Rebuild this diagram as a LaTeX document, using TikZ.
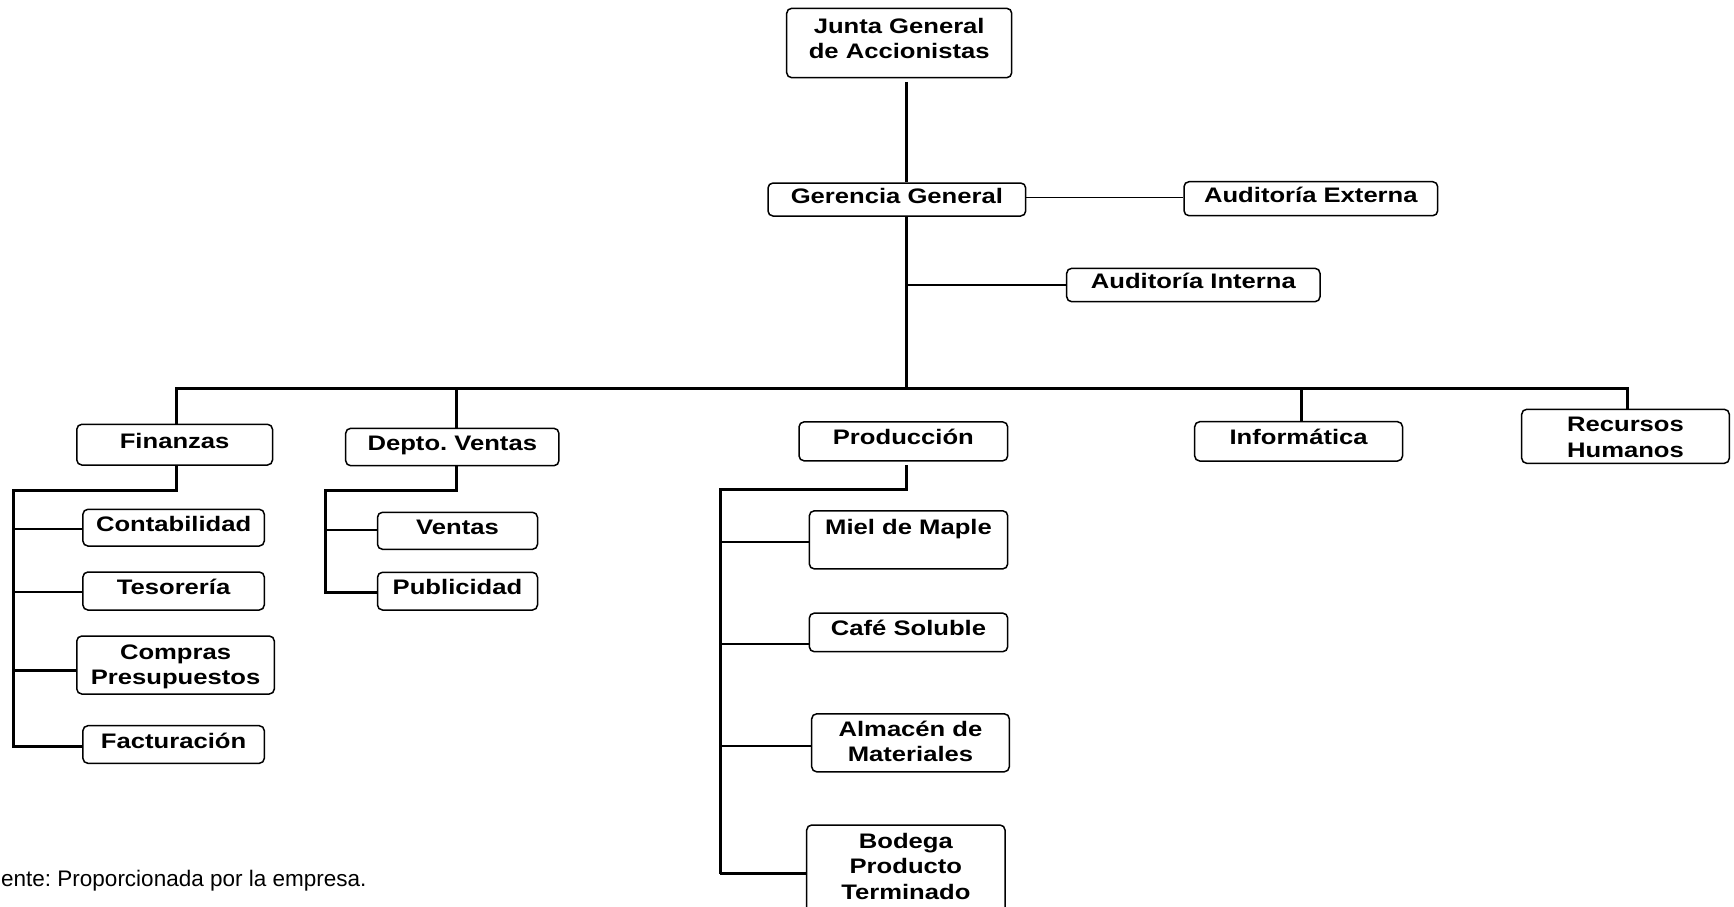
\documentclass[tikz,border=0pt]{standalone}
\usepackage{fontspec}
\setmainfont{Liberation Sans}
\newfontfamily\bxfont[FakeStretch=1.22]{Liberation Sans}
\frenchspacing
% multi-line box content: width, height, top padding, text
\newcommand\mlbox[4]{\parbox[c][#2][t]{#1}{\vspace*{#3}\centering\strut #4\par}}
\begin{document}
\begin{tikzpicture}[x=1pt,y=-1pt,
  box/.style={draw, line width=1.5pt, rounded corners=5pt, inner xsep=0pt, inner ysep=0pt,
    font=\bxfont\bfseries\fontsize{21}{25.6}\selectfont},
  one/.style={box, text height=15.5pt, text depth=8.5pt},
  multi/.style={box},
  trunk/.style={line width=3pt},
  mid/.style={line width=2.1pt},
  twig/.style={line width=1.1pt}]
\useasboundingbox (0,0) rectangle (1734,906);

% top
\node[multi] (junta) at (899.2,43) {\mlbox{225pt}{69.4pt}{7.1pt}{Junta General\\de Accionistas}};
\node[one, minimum width=257.7pt, minimum height=33pt] (ger) at (896.85,199.5) {Gerencia General};
\node[one, minimum width=253.7pt, minimum height=34pt] (ext) at (1310.85,198.7) {Auditoría Externa};
\node[one, minimum width=253.3pt, minimum height=33.4pt] (int) at (1193.35,285) {Auditoría Interna};

% second level
\node[one, minimum width=195.7pt, minimum height=40.7pt] (fin) at (174.65,444.65) {Finanzas};
\node[one, minimum width=213.2pt, minimum height=37.4pt] (dep) at (452.3,447) {Depto. Ventas};
\node[one, minimum width=208.7pt, minimum height=38.9pt] (prod) at (903.35,441.35) {Producción};
\node[one, minimum width=207.8pt, minimum height=39.3pt] (inf) at (1298.6,441.35) {Informática};
\node[multi] (rh) at (1625.5,436.3) {\mlbox{207.6pt}{54pt}{4.5pt}{Recursos\\Humanos}};

% Finanzas children
\node[one, minimum width=181.4pt, minimum height=36.7pt] (cont) at (173.6,527.65) {Contabilidad};
\node[one, minimum width=181.4pt, minimum height=38pt] (tes) at (173.6,591) {Tesorería};
\node[multi] (comp) at (175.55,665) {\mlbox{197.5pt}{58pt}{5.4pt}{Compras\\Presupuestos}};
\node[one, minimum width=181.4pt, minimum height=37.6pt] (fact) at (173.6,744.5) {Facturación};

% Ventas children
\node[one, minimum width=160pt, minimum height=37pt] (ven) at (457.5,530.8) {Ventas};
\node[one, minimum width=160pt, minimum height=37.7pt] (pub) at (457.5,591.15) {Publicidad};

% Produccion children
\node[multi] (miel) at (908.5,539.85) {\mlbox{198.4pt}{58.1pt}{5.6pt}{Miel de Maple}};
\node[one, minimum width=198.4pt, minimum height=38.6pt] (cafe) at (908.5,632.4) {Café Soluble};
\node[multi] (alm) at (910.5,742.8) {\mlbox{197.6pt}{58pt}{4.6pt}{Almacén de\\Materiales}};
\node[multi] (bod) at (905.85,871) {\mlbox{198.3pt}{92pt}{5.4pt}{Bodega\\Producto\\Terminado}};

% footer
\node[anchor=base west, inner sep=0pt, font=\fontsize{22.5}{27}\selectfont] (fuente) at (1,886.7) {ente: Proporcionada por la empresa.};

% coordinates
\coordinate (bL) at (176.8,388.5);
\coordinate (bD) at (456.4,388.5);
\coordinate (bM) at (906.3,388.5);
\coordinate (bI) at (1301.6,388.5);
\coordinate (bR) at (1627.7,388.5);

% trunk and bus
\draw[trunk, shorten <=3.5pt] (junta.south -| bM) -- (ger.north -| bM);
\draw[trunk] (ger.south -| bM) -- (bM);
\draw[trunk] (fin.north -| bL) -- (bL) -- (bR) -- (rh.north -| bR);
\draw[trunk] (bD) -- (dep.north -| bD);
\draw[trunk] (bI) -- (inf.north -| bI);
\coordinate (aE) at (1025.7,197.7);
\draw[twig] (aE) -- (ext.west |- aE);
\coordinate (aI) at (906.3,285);
\draw[twig] (aI) -- (int.west |- aI);

% Finanzas subtree
\coordinate (fA) at (176.8,490);
\coordinate (fL) at (13.2,490);
\coordinate (f1) at (13.2,529);
\coordinate (f2) at (13.2,592.3);
\coordinate (f3) at (13.2,670);
\coordinate (f4) at (13.2,746.7);
\draw[trunk] (fin.south -| fA) -- (fA) -- (fL) -- (f4) -- (fact.west |- f4);
\draw[twig] (f1) -- (cont.west |- f1);
\draw[mid] (f2) -- (tes.west |- f2);
\draw[trunk] (f3) -- (comp.west |- f3);

% Ventas subtree
\coordinate (dA) at (456.4,490);
\coordinate (dL) at (325,490);
\coordinate (d1) at (325,530);
\coordinate (d2) at (325,592.3);
\draw[trunk] (dep.south -| dA) -- (dA) -- (dL) -- (d2) -- (pub.west |- d2);
\draw[twig] (d1) -- (ven.west |- d1);

% Produccion subtree
\coordinate (pA) at (906.3,489.7);
\coordinate (pL) at (720,489.7);
\coordinate (p1) at (720,541.7);
\coordinate (p2) at (720,644);
\coordinate (p3) at (720,745.6);
\coordinate (p4) at (720,873.5);
\draw[trunk, shorten <=3.5pt] (prod.south -| pA) -- (pA) -- (pL) -- (p4);
\draw[mid] (p1) -- (miel.west |- p1);
\draw[mid] (p2) -- (cafe.west |- p2);
\draw[mid] (p3) -- (alm.west |- p3);
\draw[mid] (p4) -- (bod.west |- p4);
\end{tikzpicture}
\end{document}
